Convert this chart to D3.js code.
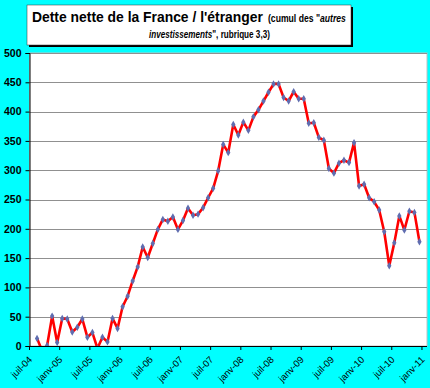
<!DOCTYPE html>
<html>
<head>
    <meta charset="utf-8">
    <script type="text/javascript" src="https://cdn.jsdelivr.net/npm/d3@7"></script>
    <style>
        body { margin: 0; background: #00ffff; }
        svg { display: block; font-family: "Liberation Sans", Arial, sans-serif; }
    </style>
</head>

<body>
    <div id="viz"></div>
    <script type="text/javascript">

    // months juil-04 .. janv-11 (79 categories)
    var monthNames = ["janv", "févr", "mars", "avr", "mai", "juin", "juil", "août", "sept", "oct", "nov", "déc"];
    var months = [];
    for (var yr = 2004; yr <= 2011; yr++) {
        for (var m = 0; m < 12; m++) {
            if (yr == 2004 && m < 6) continue;
            if (yr == 2011 && m > 0) continue;
            months.push(monthNames[m] + "-" + String(yr).slice(2));
        }
    }

    var tickLabels = ["juil-04", "janv-05", "juil-05", "janv-06", "juil-06", "janv-07", "juil-07",
                      "janv-08", "juil-08", "janv-09", "juil-09", "janv-10", "juil-10", "janv-11"];

    // net debt, août-04 .. déc-10
    var values = [13, -8, 1, 51, 6, 47, 46, 24, 32, 46, 15, 23, -4, 15, 7, 47, 30, 67, 85, 111,
                  135, 169, 151, 175, 199, 216, 213, 220, 199, 214, 235, 223, 225, 236, 253, 269,
                  299, 344, 330, 378, 360, 382, 368, 391, 403, 418, 433, 447, 447, 424, 418, 434,
                  422, 422, 380, 381, 356, 351, 303, 295, 312, 317, 313, 347, 273, 276, 253, 246,
                  232, 195, 137, 176, 222, 198, 230, 228, 178];

    var yTicks = [0, 50, 100, 150, 200, 250, 300, 350, 400, 450, 500];

    var data = values.map(function(v, i) { return {m: months[i + 1], v: v}; });

    var W = 430, H = 388,
        pLeft = 29.5, pRight = 427, pTop = 53, pBottom = 346;

    var svg = d3.select("#viz").append("svg")
        .attr("width", W)
        .attr("height", H);

    svg.append("rect").attr("width", W).attr("height", H).attr("fill", "#00ffff");

    var x = d3.scaleBand().domain(months).range([pLeft, pRight]);
    var yScale = d3.scaleLinear().domain([0, 500]).range([pBottom, pTop]);

    // plot area
    svg.append("rect")
        .attr("x", pLeft).attr("y", pTop)
        .attr("width", pRight - pLeft).attr("height", pBottom - pTop)
        .attr("fill", "white")
        .attr("stroke", "#c0c0c0");

    // grid
    svg.append("g").selectAll("line")
        .data(yTicks.filter(function(d) { return d > 0; }))
        .enter().append("line")
        .attr("x1", pLeft).attr("x2", pRight)
        .attr("y1", function(d) { return Math.round(yScale(d)) + 0.5; })
        .attr("y2", function(d) { return Math.round(yScale(d)) + 0.5; })
        .attr("stroke", "#909090");

    // y axis
    var yAxis = svg.append("g")
        .attr("transform", "translate(" + pLeft + ",0)")
        .call(d3.axisLeft(yScale).tickValues(yTicks).tickSize(4).tickPadding(4));
    yAxis.select(".domain").attr("stroke", "black");
    yAxis.selectAll("text")
        .attr("font-size", 10.5).attr("font-weight", "bold").attr("fill", "#000")
        .attr("font-family", "Liberation Sans, Arial, sans-serif");

    // x axis: ticks at the start of every 6th month
    var tickMonths = months.filter(function(d, i) { return i % 6 == 0; });
    var xg = svg.append("g");
    xg.append("line")
        .attr("x1", pLeft).attr("x2", pRight)
        .attr("y1", pBottom + 0.5).attr("y2", pBottom + 0.5)
        .attr("stroke", "black");
    xg.selectAll("line.tick")
        .data(tickMonths)
        .enter().append("line")
        .attr("class", "tick")
        .attr("x1", function(d) { return x(d); })
        .attr("x2", function(d) { return x(d); })
        .attr("y1", pBottom).attr("y2", pBottom + 4)
        .attr("stroke", "black");
    xg.selectAll("text")
        .data(tickMonths)
        .enter().append("text")
        .attr("transform", function(d) { return "translate(" + (x(d) + 1) + "," + (pBottom + 12) + ") rotate(-45)"; })
        .attr("text-anchor", "end")
        .attr("dy", "0.35em")
        .attr("font-size", 9.5)
        .attr("fill", "#000")
        .text(function(d, i) { return tickLabels[i]; });

    // line
    svg.append("clipPath").attr("id", "clip")
        .append("rect")
        .attr("x", pLeft).attr("y", pTop)
        .attr("width", pRight - pLeft).attr("height", pBottom - pTop);

    var cx = function(d) { return x(d.m) + x.bandwidth() / 2; };

    var line = d3.line()
        .x(cx)
        .y(function(d) { return yScale(d.v); });

    var plot = svg.append("g").attr("clip-path", "url(#clip)");

    plot.append("path")
        .datum(data)
        .attr("d", line)
        .attr("fill", "none")
        .attr("stroke", "#ff0000")
        .attr("stroke-width", 2.6)
        .attr("stroke-linejoin", "round");

    plot.selectAll("path.pt")
        .data(data)
        .enter().append("path")
        .attr("class", "pt")
        .attr("d", d3.symbol().type(d3.symbolDiamond).size(16))
        .attr("transform", function(d) { return "translate(" + cx(d) + "," + yScale(d.v) + ")"; })
        .attr("fill", "#5f6db0");

    // title box
    svg.append("rect")
        .attr("x", 29).attr("y", 7).attr("width", 324).attr("height", 40)
        .attr("fill", "black");
    svg.append("rect")
        .attr("x", 27).attr("y", 5).attr("width", 324).attr("height", 40)
        .attr("fill", "white")
        .attr("stroke", "#333").attr("stroke-width", 0.5);

    // squeeze a text horizontally so it spans the given width (narrow font look)
    function fit(sel, x0, width) {
        var w = sel.node().getComputedTextLength();
        var k = width / w;
        sel.attr("transform", "translate(" + x0 + ",0) scale(" + k + ",1) translate(" + (-x0) + ",0)");
    }

    var title = svg.append("g").attr("font-weight", "bold").attr("fill", "#000");
    var t1 = title.append("text").attr("x", 32).attr("y", 22).attr("font-size", 14)
        .text("Dette nette de la France / l'étranger");
    fit(t1, 32, 231);

    var t2 = title.append("text").attr("x", 268).attr("y", 22).attr("font-size", 11.5);
    t2.append("tspan").text("(cumul des \"");
    t2.append("tspan").attr("font-style", "italic").text("autres");
    fit(t2, 268, 78);

    var t3 = title.append("text").attr("x", 149).attr("y", 38.5).attr("font-size", 11.5);
    t3.append("tspan").attr("font-style", "italic").text("investissements");
    t3.append("tspan").text("\", rubrique 3,3)");
    fit(t3, 149, 121);

    </script>
</body>
</html>
